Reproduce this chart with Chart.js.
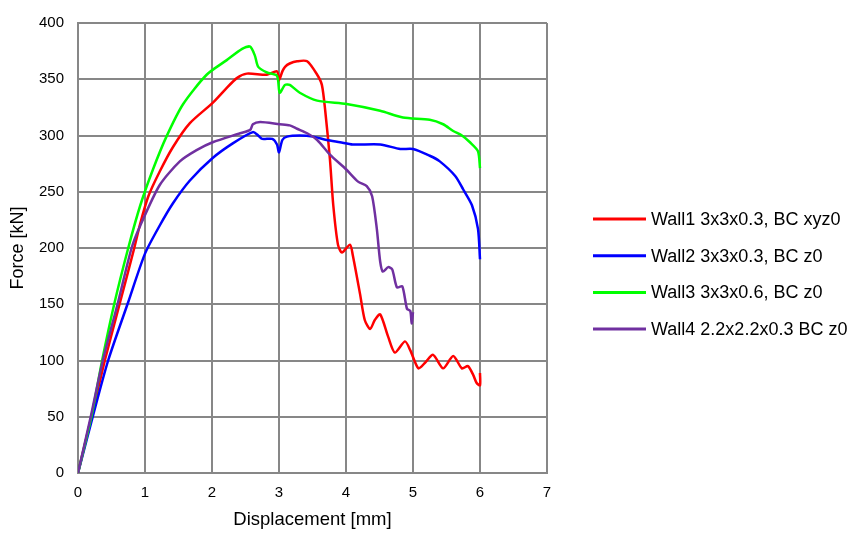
<!DOCTYPE html>
<html>
<head>
<meta charset="utf-8">
<script src="https://cdn.jsdelivr.net/npm/chart.js@4.4.0/dist/chart.umd.min.js"></script>
<style>
  body { margin: 0; background: #fff; }
  #wrap { width: 856px; height: 534px; position: relative; }
</style>
</head>
<body>
<div id="wrap"><canvas id="myChart" width="856" height="534"></canvas></div>
<script>
// series names (legend)
const seriesNames = [
  "Wall1 3x3x0.3, BC xyz0",
  "Wall2 3x3x0.3, BC z0",
  "Wall3 3x3x0.6, BC z0",
  "Wall4 2.2x2.2x0.3 BC z0"
];
const seriesColors = ["#ff0000", "#0000ff", "#00ff00", "#7030a0"];

// x ticks / y ticks
const xTicks = [0, 1, 2, 3, 4, 5, 6, 7];
const yTicks = [0, 50, 100, 150, 200, 250, 300, 350, 400];

// Wall1 - displacement [mm] / force [kN]
const wall1X = [0, 0.2, 0.4, 0.62, 0.84, 0.93, 1.05, 1.22, 1.42, 1.67, 2.01, 2.2, 2.37, 2.52, 2.82, 2.97, 3.0, 3.05, 3.09, 3.16, 3.27, 3.42, 3.57, 3.64, 3.69, 3.76, 3.81, 3.88, 3.94, 4.06, 4.1, 4.21, 4.28, 4.36, 4.43, 4.51, 4.63, 4.73, 4.88, 4.96, 5.08, 5.18, 5.3, 5.45, 5.6, 5.73, 5.82, 5.9, 5.95, 6.0, 6.0];
const wall1Y = [0, 50, 100, 150, 200, 222, 246, 268, 290, 311, 329, 341, 351, 355, 354, 357, 349, 357, 361, 364, 366, 366, 354, 345, 322, 279, 238, 203, 196, 203, 194, 159, 136, 128, 136, 141, 121, 107, 117, 109, 93, 98, 105, 93, 104, 93, 95, 87, 80, 78, 89];

// Wall2
const wall2X = [0, 0.22, 0.45, 0.75, 1.0, 1.22, 1.42, 1.67, 2.01, 2.31, 2.61, 2.69, 2.75, 2.9, 2.97, 3.0, 3.05, 3.12, 3.31, 3.51, 3.71, 3.91, 4.1, 4.51, 4.81, 5.0, 5.25, 5.4, 5.63, 5.75, 5.88, 5.97, 6.0];
const wall2Y = [0, 50, 100, 152, 195, 220, 240, 260, 280, 293, 303, 300, 297, 297, 292, 285, 296, 299, 300, 299, 296, 294, 292, 292, 288, 288, 282, 277, 264, 252, 238, 217, 190];

// Wall3
const wall3X = [0, 0.2, 0.36, 0.54, 0.75, 0.93, 1.12, 1.32, 1.57, 1.92, 2.22, 2.45, 2.57, 2.64, 2.69, 2.82, 2.97, 3.01, 3.09, 3.16, 3.31, 3.57, 4.01, 4.51, 4.85, 5.25, 5.45, 5.6, 5.73, 5.85, 5.97, 6.0];
const wall3Y = [0, 50, 100, 150, 200, 238, 270, 299, 328, 354, 367, 377, 379, 371, 361, 356, 353, 338, 345, 345, 338, 331, 328, 322, 316, 314, 310, 304, 300, 294, 286, 271];

// Wall4
const wall4X = [0, 0.19, 0.37, 0.59, 0.8, 0.93, 1.22, 1.52, 1.77, 2.01, 2.42, 2.57, 2.61, 2.72, 3.01, 3.16, 3.27, 3.42, 3.57, 3.76, 4.0, 4.18, 4.31, 4.39, 4.46, 4.51, 4.55, 4.63, 4.69, 4.76, 4.84, 4.91, 4.96, 4.98, 5.0];
const wall4Y = [0, 50, 100, 150, 200, 220, 256, 277, 287, 294, 302, 305, 310, 312, 310, 309, 306, 302, 296, 283, 270, 259, 255, 246, 217, 188, 179, 183, 181, 165, 166, 146, 144, 133, 143];

const toPoints = (xs, ys) => xs.map((x, i) => ({ x: x, y: ys[i] }));
const seriesData = [
  toPoints(wall1X, wall1Y),
  toPoints(wall2X, wall2Y),
  toPoints(wall3X, wall3Y),
  toPoints(wall4X, wall4Y)
];

const FONT = "'Liberation Sans', Arial, sans-serif";
const GRID = "#878787";

// legend drawn by hand on the right side
const sideLegend = {
  id: "sideLegend",
  afterDraw(chart) {
    const ctx = chart.ctx;
    ctx.save();
    ctx.font = "18px " + FONT;
    ctx.textBaseline = "middle";
    ctx.fillStyle = "#000";
    seriesNames.forEach((name, i) => {
      const y = 219 + i * 36.7;
      ctx.strokeStyle = seriesColors[i];
      ctx.lineWidth = 3;
      ctx.beginPath();
      ctx.moveTo(593, y);
      ctx.lineTo(646, y);
      ctx.stroke();
      ctx.fillText(name, 651, y + 1);
    });
    ctx.restore();
  }
};

const ctx = document.getElementById("myChart").getContext("2d");
const myChart = new Chart(ctx, {
  type: "scatter",
  data: {
    datasets: seriesData.map((pts, i) => ({
      label: seriesNames[i],
      data: pts,
      showLine: true,
      borderColor: seriesColors[i],
      backgroundColor: seriesColors[i],
      borderWidth: 2.5,
      pointRadius: 0,
      tension: 0.25,
      order: 3 - i
    }))
  },
  options: {
    responsive: false,
    animation: false,
    events: [],
    layout: { padding: { top: 14, right: 309, bottom: 0, left: 0 } },
    plugins: { legend: { display: false }, tooltip: { enabled: false } },
    scales: {
      x: {
        type: "linear",
        min: 0,
        max: 7,
        afterBuildTicks: (axis) => { axis.ticks = xTicks.map(v => ({ value: v })); },
        afterFit: (axis) => { axis.height = 61; },
        grid: { color: GRID, lineWidth: 2, drawTicks: false },
        border: { color: GRID, width: 2 },
        ticks: { color: "#000", font: { family: FONT, size: 15 }, padding: 11 },
        title: {
          display: true,
          text: "Displacement [mm]",
          color: "#000",
          font: { family: FONT, size: 18.5 },
          padding: { top: 0, bottom: 3 }
        }
      },
      y: {
        type: "linear",
        min: 0,
        max: 400,
        afterBuildTicks: (axis) => { axis.ticks = yTicks.map(v => ({ value: v })); },
        afterFit: (axis) => { axis.width = 78; },
        grid: { color: GRID, lineWidth: 2, drawTicks: false },
        border: { color: GRID, width: 2 },
        ticks: { color: "#000", font: { family: FONT, size: 15 }, padding: 14 },
        title: {
          display: true,
          text: "Force [kN]",
          color: "#000",
          font: { family: FONT, size: 18 },
          padding: { top: 7, bottom: 0 }
        }
      }
    }
  },
  plugins: [sideLegend]
});
</script>
</body>
</html>
